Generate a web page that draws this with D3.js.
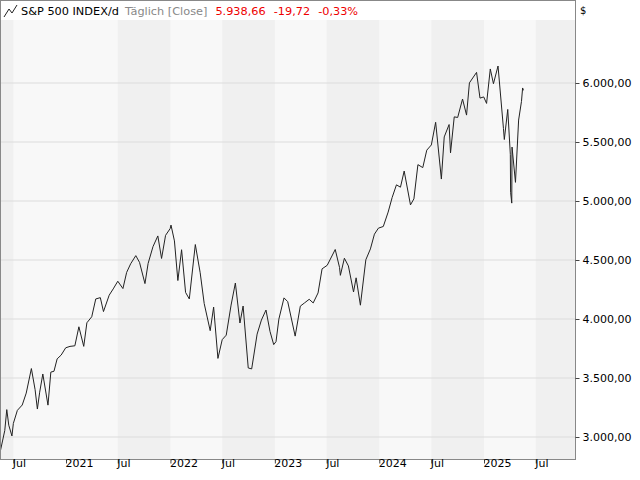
<!DOCTYPE html><html><head><meta charset="utf-8"><script src="https://cdn.jsdelivr.net/npm/d3@7"></script>
<style>body{margin:0;background:#fff}text{font-family:"DejaVu Sans",Verdana,sans-serif}</style></head><body><svg id="c" width="640" height="480"></svg><script>
const dates=["2020-05-15","2020-06-01","2020-06-08","2020-06-15","2020-06-26","2020-07-01","2020-07-15","2020-08-01","2020-08-15","2020-09-02","2020-09-15","2020-09-23","2020-10-01","2020-10-12","2020-10-30","2020-11-09","2020-11-20","2020-12-01","2020-12-15","2020-12-31",
"2021-01-15","2021-02-01","2021-02-15","2021-03-04","2021-03-15","2021-04-01","2021-04-15","2021-05-01","2021-05-12","2021-06-01","2021-06-15","2021-07-01","2021-07-19","2021-08-01","2021-08-15","2021-09-02","2021-09-15","2021-10-04","2021-10-15","2021-11-01","2021-11-18","2021-12-01","2021-12-15","2021-12-31",
"2022-01-03","2022-01-15","2022-01-27","2022-02-09","2022-02-23","2022-03-08","2022-03-29","2022-04-15","2022-04-29","2022-05-20","2022-06-01","2022-06-16","2022-07-01","2022-07-15","2022-08-01","2022-08-16","2022-09-01","2022-09-12","2022-09-30","2022-10-12","2022-10-31","2022-11-15","2022-12-01","2022-12-15","2022-12-28",
"2023-01-05","2023-01-15","2023-02-02","2023-02-15","2023-03-13","2023-03-31","2023-04-15","2023-05-01","2023-05-15","2023-06-01","2023-06-15","2023-07-03","2023-07-31","2023-08-15","2023-08-18","2023-09-01","2023-09-15","2023-10-03","2023-10-12","2023-10-27","2023-11-15","2023-12-01","2023-12-15","2023-12-29",
"2024-01-15","2024-02-01","2024-02-15","2024-03-01","2024-03-15","2024-03-28","2024-04-19","2024-05-01","2024-05-15","2024-06-01","2024-06-15","2024-07-01","2024-07-16","2024-08-05","2024-08-15","2024-09-01","2024-09-06","2024-09-19","2024-10-01","2024-10-18","2024-11-01","2024-11-11","2024-12-06","2024-12-18","2024-12-31",
"2025-01-10","2025-01-23","2025-02-03","2025-02-19","2025-03-10","2025-03-13","2025-03-25","2025-04-03","2025-04-04","2025-04-08","2025-04-09","2025-04-21","2025-05-02","2025-05-12","2025-05-16","2025-05-19"];
const closes=[2864,3055,3232,3100,3009,3115,3226,3271,3372,3580,3401,3237,3380,3534,3270,3550,3557,3662,3694,3756,
3768,3773,3934,3768,3968,4019,4170,4181,4063,4202,4255,4320,4258,4395,4468,4537,4480,4300,4471,4613,4704,4513,4709,4766,
4796,4662,4326,4587,4225,4170,4631,4392,4131,3901,4101,3666,3825,3863,4118,4305,3966,4110,3585,3577,3872,3991,4076,3895,3783,
3808,3999,4179,4147,3855,4109,4137,4167,4136,4221,4425,4455,4589,4437,4370,4515,4450,4229,4349,4117,4502,4594,4719,4770,
4784,4906,5030,5137,5117,5254,4967,5018,5308,5283,5431,5475,5667,5186,5543,5648,5408,5713,5708,5864,5728,6001,6090,5872,5882,
5827,6119,5994,6144,5614,5521,5776,5396,5074,4982,5457,5158,5686,5844,5958,5938];
const yTicks=[3000,3500,4000,4500,5000,5500,6000];
const xTicks=[["2020-07-01","Jul"],["2021-01-01","2021"],["2021-07-01","Jul"],["2022-01-01","2022"],["2022-07-01","Jul"],["2023-01-01","2023"],["2023-07-01","Jul"],["2024-01-01","2024"],["2024-07-01","Jul"],["2025-01-01","2025"],["2025-07-01","Jul"]];
const darkBands=[["2020-01-01","2020-07-01"],["2021-07-01","2022-01-01"],["2022-07-01","2023-01-01"],["2023-07-01","2024-01-01"],["2024-07-01","2025-01-01"],["2025-07-01","2026-01-01"]];
const p=d3.timeParse("%Y-%m-%d");
const svg=d3.select("#c");
const L=0,R=575,T=1,B=459;
const yr=(p("2025-01-01")-p("2021-01-01"))/418;
const t0=new Date(+p("2021-01-01")-66*yr);
const x=d3.scaleTime().domain([t0,new Date(+t0+R*yr)]).range([0,R]);
const y=d3.scaleLinear().domain([3000,6000]).range([437,83]);
const g=svg.append("g");
g.append("rect").attr("x",L).attr("y",T).attr("width",R-L).attr("height",B-T).attr("fill","#f8f8f8");
g.selectAll(".band").data(darkBands).join("rect").attr("x",d=>Math.max(L,x(p(d[0])))).attr("width",d=>Math.min(R,x(p(d[1])))-Math.max(L,x(p(d[0])))).attr("y",T).attr("height",B-T).attr("fill","#f0f0f0");
g.selectAll(".gl").data(yTicks).join("line").attr("x1",L).attr("x2",R).attr("y1",d=>y(d)).attr("y2",d=>y(d)).attr("stroke","#dcdcdc");
const line=d3.line().x(d=>x(p(d[0]))).y(d=>y(d[1]));
g.append("path").datum(dates.map((d,i)=>[d,closes[i]])).attr("d",line).attr("fill","none").attr("stroke","#222").attr("stroke-width",1);
g.append("rect").attr("x",L).attr("y",T).attr("width",R-L).attr("height",19).attr("fill","#fff");
svg.append("rect").attr("x",L+0.5).attr("y",0.5).attr("width",R-L).attr("height",B).attr("fill","none").attr("stroke","#888");
const ya=svg.append("g").attr("transform",`translate(${R+0.5},0)`).call(d3.axisRight(y).tickValues(yTicks).tickSize(4).tickFormat(d=>d3.format(",.2f")(d).replace(/,/g,"#").replace(".",",").replace(/#/g,".")));
ya.select(".domain").remove();
ya.selectAll("text").attr("font-size",11).attr("fill","#000").attr("font-family","DejaVu Sans");
ya.selectAll("line").attr("stroke","#444");
const xa=svg.append("g").attr("transform",`translate(0,${B+0.5})`).call(d3.axisBottom(x).tickValues(xTicks.map(d=>p(d[0]))).tickSize(4).tickFormat((d,i)=>xTicks[i][1]));
xa.select(".domain").remove();
xa.selectAll("text").attr("font-size",11).attr("fill","#000").attr("text-anchor","start").attr("dx",-1).attr("dy",0).attr("font-family","DejaVu Sans");
xa.selectAll("line").attr("stroke","#444");
svg.append("text").attr("x",580).attr("y",14).attr("font-size",10).text("$");
svg.append("path").attr("d","M4,17 L9,9 L12,13 L17,5").attr("fill","none").attr("stroke","#222");
const h=svg.append("text").attr("x",21).attr("y",15).attr("font-size",11.3);
h.append("tspan").attr("fill","#000").text("S&P 500 INDEX/d");
h.append("tspan").attr("fill","#888").attr("dx",6).text("Täglich [Close]");
h.append("tspan").attr("fill","#e00").attr("dx",8).text("5.938,66");
h.append("tspan").attr("fill","#e00").attr("dx",8).text("-19,72");
h.append("tspan").attr("fill","#e00").attr("dx",8).text("-0,33%");
</script></body></html>
